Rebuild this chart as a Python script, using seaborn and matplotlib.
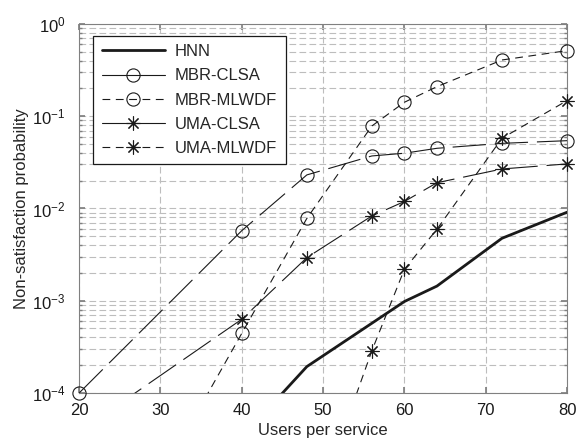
import numpy as np
import pandas as pd
import seaborn as sns
import matplotlib.pyplot as plt
from matplotlib.lines import Line2D
from matplotlib.ticker import LogLocator, LogFormatterMathtext, NullFormatter

# data
hnn_x = [40, 48, 56, 60, 64, 72, 80]
hnn_y = [3.3e-5, 1.93e-4, 5.7e-4, 9.8e-4, 1.44e-3, 4.75e-3, 9.1e-3]

mbr_clsa_x = [20, 40, 48, 56, 60, 64, 72, 80]
mbr_clsa_y = [1.0e-4, 5.75e-3, 0.0231, 0.0371, 0.0397, 0.0449, 0.0508, 0.0543]

mbr_mlwdf_x = [32, 40, 48, 56, 60, 64, 72, 80]
mbr_mlwdf_y = [2.5e-5, 4.43e-4, 7.8e-3, 0.0784, 0.1417, 0.209, 0.407, 0.514]

uma_clsa_x = [20, 40, 48, 56, 60, 64, 72, 80]
uma_clsa_y = [3.8e-5, 6.3e-4, 2.93e-3, 8.3e-3, 0.0119, 0.0190, 0.0268, 0.0304]

uma_mlwdf_x = [48, 56, 60, 64, 72, 80]
uma_mlwdf_y = [3.0e-6, 2.87e-4, 2.19e-3, 5.95e-3, 0.0577, 0.1475]

labels = ["HNN", "MBR-CLSA", "MBR-MLWDF", "UMA-CLSA", "UMA-MLWDF"]

sns.set_theme(style="white")
plt.rcParams['font.family'] = ['Liberation Sans', 'DejaVu Sans']
plt.rcParams['mathtext.fontset'] = 'custom'
plt.rcParams['mathtext.rm'] = 'Liberation Sans'
plt.rcParams['mathtext.it'] = 'Liberation Sans'

fig = plt.figure(figsize=(5.78, 4.44), dpi=100)
ax = fig.add_axes([0.137, 0.115, 0.844, 0.831])

long_dash = (0, (30, 8))
short_dash = (0, (7, 5))
star = (8, 2, 0)

series = [
    (hnn_x, hnn_y, '-', 2.0, None),
    (mbr_clsa_x, mbr_clsa_y, long_dash, 0.8, 'o'),
    (mbr_mlwdf_x, mbr_mlwdf_y, short_dash, 0.8, 'o'),
    (uma_clsa_x, uma_clsa_y, long_dash, 0.8, star),
    (uma_mlwdf_x, uma_mlwdf_y, short_dash, 0.8, star),
]

for xs, ys, ls, lw, mk in series:
    sns.lineplot(x=xs, y=ys, ax=ax, color='k', linestyle=ls, linewidth=lw,
                 sort=False, estimator=None, zorder=3)
    if mk is not None:
        # markers are not clipped at the axes edge, lines are
        pts = pd.DataFrame({"x": xs, "y": ys})
        pts = pts[(pts.y >= 1e-4) & (pts.y <= 1)]
        ax.plot(pts.x, pts.y, linestyle='none', marker=mk, markersize=9.5 if mk == 'o' else 10,
                markerfacecolor='none', markeredgecolor='k', markeredgewidth=0.8,
                clip_on=False, zorder=4)

ax.set_yscale('log')
ax.set_xlim(20, 80)
ax.set_ylim(1e-4, 1)
ax.set_xticks(range(20, 81, 10))
ax.yaxis.set_major_locator(LogLocator(base=10, numticks=10))
ax.yaxis.set_minor_locator(LogLocator(base=10, subs=np.arange(2, 10), numticks=20))
ax.yaxis.set_major_formatter(LogFormatterMathtext())
ax.yaxis.set_minor_formatter(NullFormatter())

grid_kw = dict(color='#bdbdbd', linestyle=(0, (6, 3)), linewidth=0.8)
ax.grid(True, which='major', axis='both', **grid_kw)
ax.grid(True, which='minor', axis='y', **grid_kw)
ax.set_axisbelow(True)

ax.tick_params(which='both', direction='in', colors='#808080', labelcolor='k', labelsize=12)
ax.tick_params(which='major', length=4)
ax.tick_params(which='minor', length=2)
ax.tick_params(axis='y', which='both', left=True, right=True, pad=10)
ax.tick_params(axis='x', which='both', bottom=True, top=True, pad=7)
for s in ax.spines.values():
    s.set_color('#808080')
    s.set_linewidth(0.8)

ax.set_xlabel("Users per service", fontsize=12, labelpad=4)
ax.set_ylabel("Non-satisfaction probability", fontsize=12, labelpad=2)

handles = [
    Line2D([], [], color='k', lw=2.0),
    Line2D([], [], color='k', lw=0.8, marker='o', markersize=9.5, markerfacecolor='none', markeredgewidth=0.8),
    Line2D([], [], color='k', lw=0.8, ls=short_dash, marker='o', markersize=9.5, markerfacecolor='none', markeredgewidth=0.8),
    Line2D([], [], color='k', lw=0.8, marker=star, markersize=10, markeredgewidth=0.8),
    Line2D([], [], color='k', lw=0.8, ls=short_dash, marker=star, markersize=10, markeredgewidth=0.8),
]
leg = ax.legend(handles, labels, loc='upper left', bbox_to_anchor=(0.012, 0.99),
                fontsize=12, handlelength=3.8, labelspacing=0.55, fancybox=False,
                framealpha=1, edgecolor='k', borderpad=0.5, handletextpad=0.6)
leg.get_frame().set_linewidth(0.9)

fig.savefig("out.png", dpi=100)
